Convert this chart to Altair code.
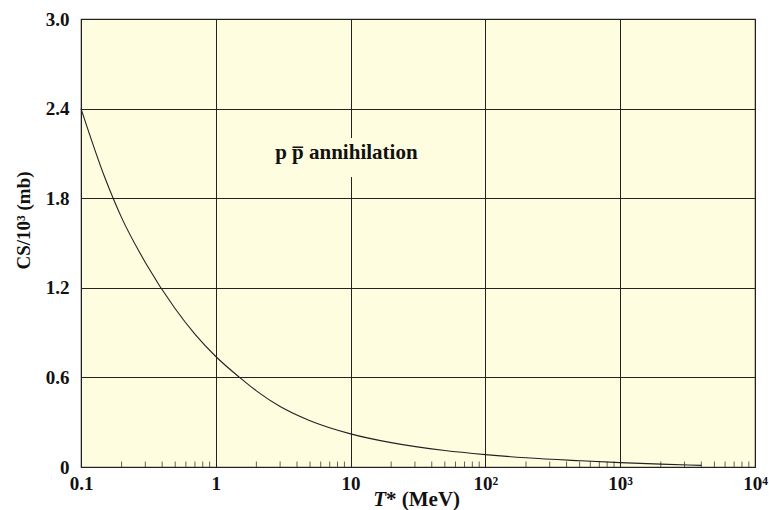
import altair as alt
import pandas as pd

# Kinetic energy T* (MeV) and annihilation cross section CS/10^3 (mb)
energy = [0.1, 0.15, 0.2, 0.3, 0.5, 0.7, 1, 1.5, 2, 3, 5, 10, 20, 50, 100, 200, 500, 1000, 2000, 4000]
cross_section = [2.40, 1.94, 1.67, 1.37, 1.06, 0.89, 0.74, 0.60, 0.51, 0.405, 0.31, 0.222,
                 0.163, 0.11, 0.083, 0.062, 0.042, 0.029, 0.019, 0.011]

# Axis ticks
x_major = [0.1, 1, 10, 100, 1000, 10000]
x_labels = ["0.1", "1", "10", "10²", "10³", "10⁴"]
x_minor = [m * d for d in [0.1, 1, 10, 100, 1000] for m in range(2, 10)]
y_ticks = [0, 0.6, 1.2, 1.8, 2.4, 3.0]
y_labels = ["0", "0.6", "1.2", "1.8", "2.4", "3.0"]

# Annotation
label_text = "p p\u0305 annihilation"
label_x = 9.3
label_y = 2.063

SERIF = "Liberation Serif"
BG = "#FFFDE0"
INK = "#111111"
W, H = 674, 448


def label_lookup(values, labels):
    """Nested ternary that maps a tick value to its printed label."""
    expr = "''"
    for v, lab in reversed(list(zip(values, labels))):
        tol = 1e-6 * max(1.0, abs(v))
        expr = f"(abs(datum.value - {v}) < {tol} ? '{lab}' : {expr})"
    return expr


curve_df = pd.DataFrame({"T": energy, "CS": cross_section})
minor_df = pd.DataFrame({"T": x_minor, "CS": [0] * len(x_minor)})
label_df = pd.DataFrame({"T": [label_x], "CS": [label_y], "txt": [label_text]})

x_scale = alt.Scale(type="log", domain=[0.1, 10000], nice=False)
y_scale = alt.Scale(domain=[0, 3.0], nice=False, zero=True)

x_enc = alt.X(
    "T:Q", scale=x_scale,
    axis=alt.Axis(values=x_major, labelExpr=label_lookup(x_major, x_labels), title=None,
                  grid=True, ticks=False, labelPadding=7, labelFlush=False,
                  labelOverlap=False, labelBound=False),
)
y_enc = alt.Y(
    "CS:Q", scale=y_scale,
    axis=alt.Axis(values=y_ticks, labelExpr=label_lookup(y_ticks, y_labels),
                  title="CS/10³ (mb)", titleY=201, grid=True, ticks=False,
                  labelPadding=12, titlePadding=12, labelFlush=False),
)

curve = alt.Chart(curve_df).mark_line(
    color="#222222", strokeWidth=1.1, interpolate="monotone"
).encode(x=x_enc, y=y_enc)

minor = alt.Chart(minor_df).mark_tick(
    color="#222222", thickness=1, size=11, orient="vertical", clip=True
).encode(x=alt.X("T:Q", scale=x_scale), y=alt.Y("CS:Q", scale=y_scale))

# Blank patch behind the annotation so the grid does not run through it
label_bg = alt.Chart(label_df).mark_rect(
    fill=BG, width=150, height=39, yOffset=-1.5
).encode(x=alt.X("T:Q", scale=x_scale), y=alt.Y("CS:Q", scale=y_scale))

label = alt.Chart(label_df).mark_text(
    font=SERIF, fontWeight="bold", fontSize=21, color=INK, align="center", baseline="alphabetic"
).encode(x=alt.X("T:Q", scale=x_scale), y=alt.Y("CS:Q", scale=y_scale), text="txt:N")

# x-axis title with an italic T
title_t = alt.Chart(label_df).mark_text(
    font=SERIF, fontWeight="bold", fontStyle="italic", fontSize=21, color=INK,
    align="right", baseline="alphabetic"
).encode(x=alt.value(305), y=alt.value(487), text=alt.value("T"))

title_rest = alt.Chart(label_df).mark_text(
    font=SERIF, fontWeight="bold", fontSize=21, color=INK,
    align="left", baseline="alphabetic"
).encode(x=alt.value(305), y=alt.value(487), text=alt.value("* (MeV)"))

chart = alt.layer(curve, minor, label_bg, label, title_t, title_rest).properties(
    width=W, height=H,
    autosize=alt.AutoSizeParams(type="none"),
    padding={"left": 81, "top": 19, "right": 14, "bottom": 43},
    background="white",
).configure_view(
    fill=BG, stroke="#333333", strokeWidth=1.2
).configure_axis(
    labelFont=SERIF, labelFontWeight="bold", labelFontSize=19, labelColor=INK,
    titleFont=SERIF, titleFontWeight="bold", titleFontSize=19, titleColor=INK,
    gridColor="#222222", gridWidth=1, gridOpacity=1, domain=False,
)

chart.save("out.html", embed_options={"renderer": "svg", "actions": False})
